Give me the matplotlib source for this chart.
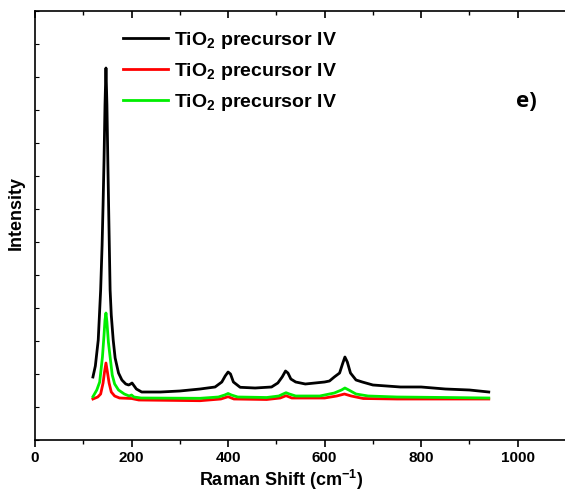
import matplotlib
matplotlib.use("Agg")
import matplotlib.pyplot as plt
from matplotlib.ticker import MultipleLocator, NullFormatter

plt.rcParams['font.family'] = ['Liberation Sans', 'DejaVu Sans']
plt.rcParams['mathtext.fontset'] = 'custom'
plt.rcParams['mathtext.rm'] = 'Liberation Sans'
plt.rcParams['mathtext.bf'] = 'Liberation Sans:bold'

# Raman shift (cm^-1) and intensities (arbitrary units)
black_x = [120, 125, 131, 136, 139, 141, 143, 145, 147, 149, 151, 153, 155.6, 158, 162,
           166, 173, 180, 188, 194, 198, 201, 204, 210, 221, 260, 300, 342, 373, 387,
           394, 400, 405, 411, 425, 456, 490, 503, 512, 519, 524, 530, 540, 560, 580,
           600, 610, 620, 631, 637, 642, 647, 653.5, 665, 678, 700, 757, 800, 850, 900, 940]
black_y = [63, 74, 100, 150, 195, 235, 280, 335, 372, 335, 275, 220, 150, 125, 100,
           82, 67, 60, 56, 55, 56, 57, 55, 51, 48, 48, 49, 51, 53, 58,
           64, 68, 66, 58, 52.7, 52, 53, 57, 63, 69, 67, 61, 58, 56, 57,
           58, 59, 63, 67, 76, 83, 78, 67, 60, 58, 55, 53, 53, 51, 50, 48]

green_x = [120, 128, 134, 139.7, 143, 145, 147, 149, 152, 155.6, 160, 165, 173, 185, 195,
           200, 205, 220, 342, 380, 393, 400, 407, 420, 480, 505, 514, 520, 527, 540,
           590, 620, 635, 642, 650, 665, 690, 750, 850, 940]
green_y = [43.3, 50, 58, 83, 105, 120, 127, 118, 98, 83, 65, 56, 50, 46, 44,
           45, 43, 42, 41.7, 43, 45, 46.5, 45, 43, 42.5, 44, 46, 47.3, 46, 44,
           44, 47, 50, 52, 50, 46, 44, 43, 42.5, 42]

red_x = [120, 130, 136, 141, 144, 147, 150, 153.5, 158, 165, 175, 200, 215, 342, 385,
         400, 412, 480, 508, 520, 532, 600, 625, 641, 655, 680, 750, 940]
red_y = [41, 43, 46, 57, 68, 77, 68, 57, 48, 44, 42, 41.5, 40, 39.3, 41,
         43.3, 41, 40.5, 42, 44.3, 42, 42, 44, 46, 44, 41.5, 41, 41]

labels = ['TiO$_\\mathbf{2}$ precursor IV'] * 3

fig = plt.figure(figsize=(5.65, 4.99), dpi=100)
ax = fig.add_axes([35 / 565, 59 / 499, 531 / 565, 429 / 499])

ax.plot(black_x, black_y, color='black', lw=2, label=labels[0])
ax.plot(red_x, red_y, color='#ff0000', lw=2, label=labels[1])
ax.plot(green_x, green_y, color='#00ee00', lw=2, label=labels[2])

ax.set_xlim(0, 1100)
ax.set_ylim(0, 429)
ax.xaxis.set_major_locator(MultipleLocator(200))
ax.xaxis.set_minor_locator(MultipleLocator(100))
ax.yaxis.set_major_locator(MultipleLocator(33))
ax.yaxis.set_major_formatter(NullFormatter())
ax.tick_params(axis='x', which='major', direction='out', length=5, width=1.2,
               labelsize=11, top=True, pad=3)
ax.tick_params(axis='x', which='minor', direction='out', length=3, width=1.0, top=True)
ax.tick_params(axis='y', which='major', direction='in', length=3, width=0.8, right=False)
for lab in ax.get_xticklabels():
    lab.set_fontweight('bold')
# top ticks point inward
for t in ax.xaxis.get_major_ticks() + ax.xaxis.get_minor_ticks():
    t.tick2line.set_marker(3)
for sp in ax.spines.values():
    sp.set_linewidth(1.2)

ax.set_xlabel('Raman Shift (cm$^{\\mathbf{-1}}$)', fontsize=13, fontweight='bold', labelpad=2)
ax.xaxis.label.set_x(0.463)
ax.set_ylabel('Intensity', fontsize=13, fontweight='bold')
ax.yaxis.set_label_coords(-0.019, 0.529)

leg = ax.legend(loc='upper left', bbox_to_anchor=(0.133, 0.996), frameon=False,
                prop={'weight': 'bold', 'size': 14}, handlelength=2.3,
                handletextpad=0.3, labelspacing=0.5)

ax.text(0.925, 0.79, 'e)', transform=ax.transAxes, fontsize=16, fontweight='bold',
        family='Open Sans', ha='center', va='center')

fig.savefig('out.png', dpi=100)
